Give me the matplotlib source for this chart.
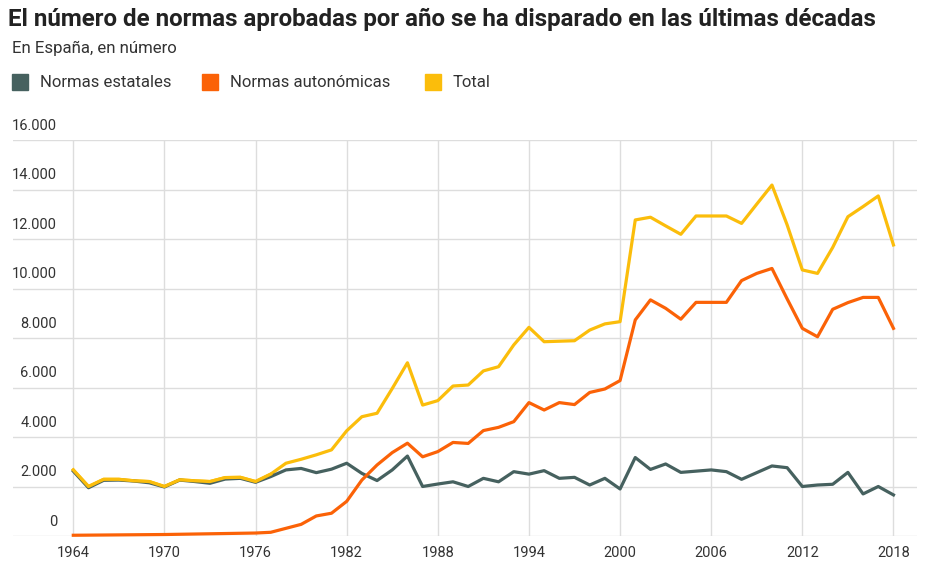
import matplotlib.pyplot as plt
from matplotlib.patches import Rectangle
from matplotlib.transforms import blended_transform_factory

plt.rcParams['font.family'] = ['Roboto', 'DejaVu Sans']

years = list(range(1964, 2019))
estatales = [2620, 1950, 2250, 2260, 2220, 2150, 1980, 2260, 2200, 2130,
             2300, 2330, 2170, 2400, 2670, 2730, 2560, 2700, 2940, 2530,
             2240, 2670, 3230, 2000, 2100, 2190, 2000, 2330, 2190, 2600,
             2500, 2640, 2330, 2370, 2060, 2330, 1900, 3170, 2690, 2910,
             2570, 2620, 2670, 2600, 2290, 2560, 2830, 2760, 2000, 2060,
             2090, 2570, 1700, 2000, 1660]
autonomicas = [30, 35, 40, 45, 50, 55, 60, 70, 80, 90,
               100, 110, 120, 150, 310, 470, 810, 920, 1400, 2260,
               2870, 3370, 3750, 3200, 3410, 3780, 3740, 4260, 4390, 4620,
               5390, 5090, 5390, 5310, 5800, 5940, 6280, 8730, 9540, 9200,
               8760, 9440, 9440, 9440, 10320, 10610, 10810, 9580, 8390, 8050,
               9160, 9430, 9640, 9640, 8390]
total = [2670, 2000, 2290, 2290, 2230, 2200, 2000, 2270, 2230, 2200,
         2360, 2370, 2200, 2500, 2940, 3100, 3280, 3480, 4250, 4820,
         4960, 5960, 7000, 5290, 5470, 6060, 6100, 6670, 6840, 7720,
         8430, 7850, 7870, 7890, 8320, 8570, 8660, 12770, 12880, 12530,
         12190, 12930, 12930, 12930, 12630, 13410, 14180, 12570, 10750, 10610,
         11660, 12900, 13310, 13740, 11760]

series = ['Normas estatales', 'Normas autonómicas', 'Total']
colores = ['#46615f', '#fb6207', '#fbbd0b']
yticks = [0, 2000, 4000, 6000, 8000, 10000, 12000, 14000, 16000]
xticks = [1964, 1970, 1976, 1982, 1988, 1994, 2000, 2006, 2012, 2018]

W, H = 926, 566
fig = plt.figure(figsize=(W / 100, H / 100), dpi=100)
ax = fig.add_axes([13 / W, 30 / H, 904 / W, 396 / H])

# orden de dibujo: total debajo, luego estatales y autonómicas encima
ax.plot(years, total, color=colores[2], lw=2.3, clip_on=False, zorder=3)
ax.plot(years, estatales, color=colores[0], lw=2.3, clip_on=False, zorder=4)
ax.plot(years, autonomicas, color=colores[1], lw=2.3, clip_on=False, zorder=5)
# en los primeros años el total tapa a las estatales
ax.plot(years[:14], total[:14], color=colores[2], lw=2.3, zorder=4.5)

ax.set_xlim(1960.03, 2019.55)
ax.set_ylim(0, 16000)
for s in ax.spines.values():
    s.set_visible(False)
ax.set_yticks(yticks)
ax.set_yticklabels([])
ax.set_xticks(xticks)
ax.set_xticklabels([str(x) for x in xticks], fontsize=10.5, color='#333333')
ax.tick_params(length=0, pad=7)
ax.grid(True, color='#dddddd', lw=1.0)
ax.set_axisbelow(True)

tr = blended_transform_factory(fig.transFigure, ax.transData)
for v in yticks:
    lab = f'{v:,}'.replace(',', '.')
    ax.text(57 / W, v + 300, lab, transform=tr, ha='right', va='bottom',
            fontsize=10.5, color='#333333')

fig.text(8 / W, 1 - 19 / H, 'El número de normas aprobadas por año se ha disparado en las últimas décadas',
         fontsize=17.4, fontweight='bold', color='#222222', va='center')
fig.text(12 / W, 1 - 48 / H, 'En España, en número', fontsize=12.1, color='#333333', va='center')

leg_x = [12, 202, 425]
for x0, nombre, c in zip(leg_x, series, colores):
    fig.add_artist(Rectangle((x0 / W, 1 - 90 / H), 16 / W, 16 / H,
                             transform=fig.transFigure, color=c))
    fig.text((x0 + 28) / W, 1 - 83 / H, nombre, fontsize=12, color='#333333', va='center')

plt.savefig('out.png', dpi=100)
